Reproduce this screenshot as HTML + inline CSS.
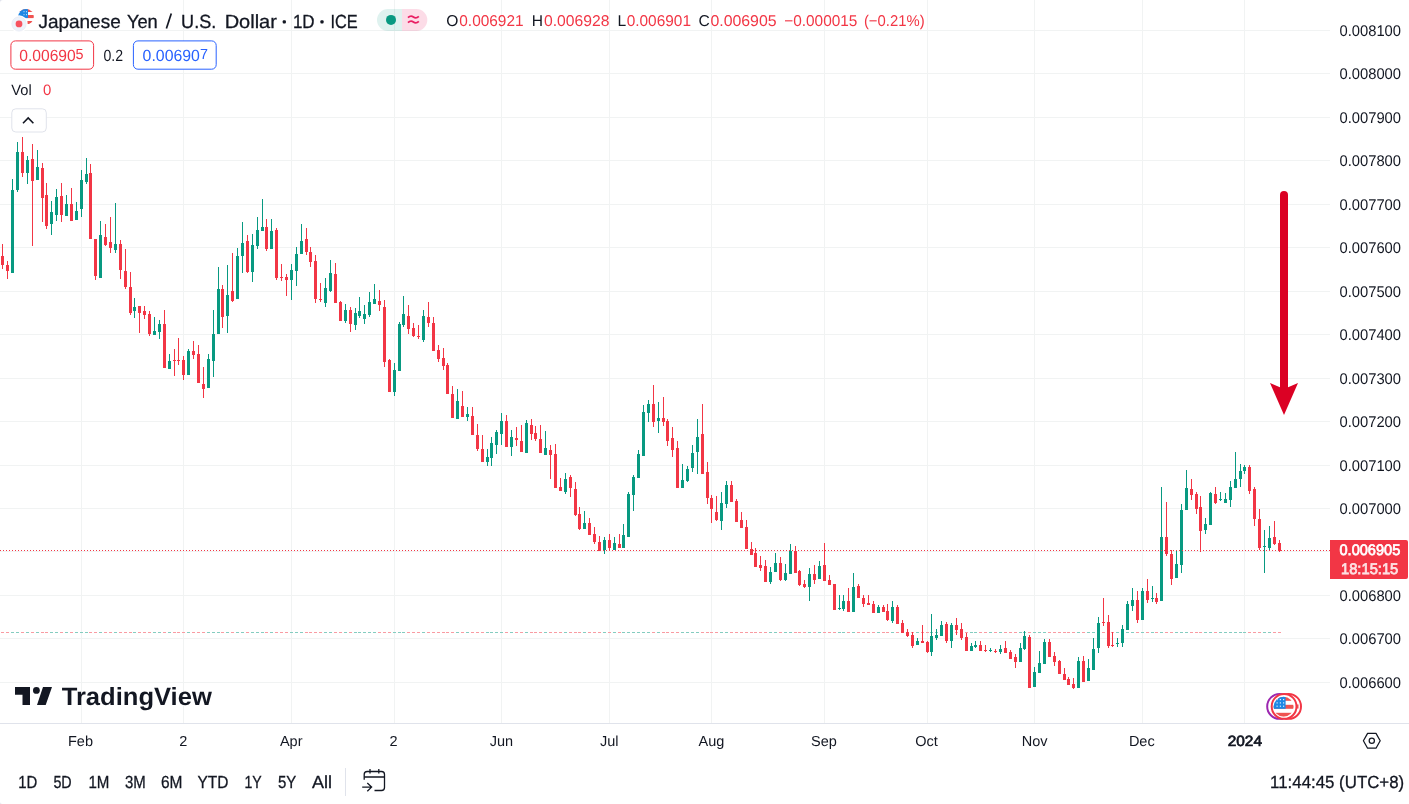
<!DOCTYPE html><html><head><meta charset="utf-8"><title>JPYUSD</title><style>
html,body{margin:0;padding:0;background:#fff;}body{width:1409px;height:804px;overflow:hidden;position:relative;font-family:"Liberation Sans",sans-serif;}
svg{position:absolute;left:0;top:0;display:block;will-change:transform;opacity:0.9999}text{font-family:"Liberation Sans",sans-serif;text-rendering:geometricPrecision;}
</style></head><body>
<svg width="1409" height="804" viewBox="0 0 1409 804">
<rect width="1409" height="804" fill="#fff"/>
<g shape-rendering="crispEdges" fill="#f1f3f3">
<rect x="0" y="30" width="1330" height="1"/>
<rect x="0" y="73" width="1330" height="1"/>
<rect x="0" y="117" width="1330" height="1"/>
<rect x="0" y="160" width="1330" height="1"/>
<rect x="0" y="204" width="1330" height="1"/>
<rect x="0" y="247" width="1330" height="1"/>
<rect x="0" y="291" width="1330" height="1"/>
<rect x="0" y="334" width="1330" height="1"/>
<rect x="0" y="378" width="1330" height="1"/>
<rect x="0" y="421" width="1330" height="1"/>
<rect x="0" y="465" width="1330" height="1"/>
<rect x="0" y="508" width="1330" height="1"/>
<rect x="0" y="551" width="1330" height="1"/>
<rect x="0" y="595" width="1330" height="1"/>
<rect x="0" y="638" width="1330" height="1"/>
<rect x="0" y="682" width="1330" height="1"/>
<rect x="81" y="0" width="1" height="723"/>
<rect x="183" y="0" width="1" height="723"/>
<rect x="291" y="0" width="1" height="723"/>
<rect x="394" y="0" width="1" height="723"/>
<rect x="501" y="0" width="1" height="723"/>
<rect x="609" y="0" width="1" height="723"/>
<rect x="711" y="0" width="1" height="723"/>
<rect x="824" y="0" width="1" height="723"/>
<rect x="927" y="0" width="1" height="723"/>
<rect x="1034" y="0" width="1" height="723"/>
<rect x="1142" y="0" width="1" height="723"/>
<rect x="1244" y="0" width="1" height="723"/>
</g>
<g shape-rendering="crispEdges">
<rect x="1" y="632" width="3" height="1" fill="#f99ba2"/>
<rect x="6" y="632" width="3" height="1" fill="#f99ba2"/>
<rect x="11" y="632" width="3" height="1" fill="#84ccc0"/>
<rect x="16" y="632" width="3" height="1" fill="#84ccc0"/>
<rect x="21" y="632" width="3" height="1" fill="#f99ba2"/>
<rect x="26" y="632" width="3" height="1" fill="#84ccc0"/>
<rect x="31" y="632" width="3" height="1" fill="#f99ba2"/>
<rect x="36" y="632" width="3" height="1" fill="#84ccc0"/>
<rect x="41" y="632" width="3" height="1" fill="#f99ba2"/>
<rect x="45" y="632" width="3" height="1" fill="#f99ba2"/>
<rect x="50" y="632" width="3" height="1" fill="#84ccc0"/>
<rect x="55" y="632" width="3" height="1" fill="#84ccc0"/>
<rect x="60" y="632" width="3" height="1" fill="#f99ba2"/>
<rect x="65" y="632" width="3" height="1" fill="#84ccc0"/>
<rect x="70" y="632" width="3" height="1" fill="#f99ba2"/>
<rect x="75" y="632" width="3" height="1" fill="#84ccc0"/>
<rect x="80" y="632" width="3" height="1" fill="#84ccc0"/>
<rect x="85" y="632" width="3" height="1" fill="#84ccc0"/>
<rect x="89" y="632" width="3" height="1" fill="#f99ba2"/>
<rect x="94" y="632" width="3" height="1" fill="#f99ba2"/>
<rect x="99" y="632" width="3" height="1" fill="#84ccc0"/>
<rect x="104" y="632" width="3" height="1" fill="#f99ba2"/>
<rect x="109" y="632" width="3" height="1" fill="#f99ba2"/>
<rect x="114" y="632" width="3" height="1" fill="#84ccc0"/>
<rect x="119" y="632" width="3" height="1" fill="#f99ba2"/>
<rect x="124" y="632" width="3" height="1" fill="#f99ba2"/>
<rect x="129" y="632" width="3" height="1" fill="#f99ba2"/>
<rect x="133" y="632" width="3" height="1" fill="#84ccc0"/>
<rect x="138" y="632" width="3" height="1" fill="#f99ba2"/>
<rect x="143" y="632" width="3" height="1" fill="#f99ba2"/>
<rect x="148" y="632" width="3" height="1" fill="#f99ba2"/>
<rect x="153" y="632" width="3" height="1" fill="#84ccc0"/>
<rect x="158" y="632" width="3" height="1" fill="#84ccc0"/>
<rect x="163" y="632" width="3" height="1" fill="#f99ba2"/>
<rect x="168" y="632" width="3" height="1" fill="#84ccc0"/>
<rect x="173" y="632" width="3" height="1" fill="#f99ba2"/>
<rect x="177" y="632" width="3" height="1" fill="#f99ba2"/>
<rect x="182" y="632" width="3" height="1" fill="#f99ba2"/>
<rect x="187" y="632" width="3" height="1" fill="#84ccc0"/>
<rect x="192" y="632" width="3" height="1" fill="#f99ba2"/>
<rect x="197" y="632" width="3" height="1" fill="#f99ba2"/>
<rect x="202" y="632" width="3" height="1" fill="#f99ba2"/>
<rect x="207" y="632" width="3" height="1" fill="#84ccc0"/>
<rect x="212" y="632" width="3" height="1" fill="#84ccc0"/>
<rect x="217" y="632" width="3" height="1" fill="#84ccc0"/>
<rect x="221" y="632" width="3" height="1" fill="#f99ba2"/>
<rect x="226" y="632" width="3" height="1" fill="#84ccc0"/>
<rect x="231" y="632" width="3" height="1" fill="#f99ba2"/>
<rect x="236" y="632" width="3" height="1" fill="#84ccc0"/>
<rect x="241" y="632" width="3" height="1" fill="#84ccc0"/>
<rect x="246" y="632" width="3" height="1" fill="#f99ba2"/>
<rect x="251" y="632" width="3" height="1" fill="#84ccc0"/>
<rect x="256" y="632" width="3" height="1" fill="#84ccc0"/>
<rect x="261" y="632" width="3" height="1" fill="#84ccc0"/>
<rect x="265" y="632" width="3" height="1" fill="#f99ba2"/>
<rect x="270" y="632" width="3" height="1" fill="#84ccc0"/>
<rect x="275" y="632" width="3" height="1" fill="#f99ba2"/>
<rect x="280" y="632" width="3" height="1" fill="#f99ba2"/>
<rect x="285" y="632" width="3" height="1" fill="#f99ba2"/>
<rect x="290" y="632" width="3" height="1" fill="#84ccc0"/>
<rect x="295" y="632" width="3" height="1" fill="#84ccc0"/>
<rect x="300" y="632" width="3" height="1" fill="#84ccc0"/>
<rect x="305" y="632" width="3" height="1" fill="#f99ba2"/>
<rect x="309" y="632" width="3" height="1" fill="#f99ba2"/>
<rect x="314" y="632" width="3" height="1" fill="#f99ba2"/>
<rect x="319" y="632" width="3" height="1" fill="#f99ba2"/>
<rect x="324" y="632" width="3" height="1" fill="#84ccc0"/>
<rect x="329" y="632" width="3" height="1" fill="#84ccc0"/>
<rect x="334" y="632" width="3" height="1" fill="#f99ba2"/>
<rect x="339" y="632" width="3" height="1" fill="#f99ba2"/>
<rect x="344" y="632" width="3" height="1" fill="#84ccc0"/>
<rect x="349" y="632" width="3" height="1" fill="#f99ba2"/>
<rect x="354" y="632" width="3" height="1" fill="#84ccc0"/>
<rect x="358" y="632" width="3" height="1" fill="#84ccc0"/>
<rect x="363" y="632" width="3" height="1" fill="#84ccc0"/>
<rect x="368" y="632" width="3" height="1" fill="#84ccc0"/>
<rect x="373" y="632" width="3" height="1" fill="#84ccc0"/>
<rect x="378" y="632" width="3" height="1" fill="#f99ba2"/>
<rect x="383" y="632" width="3" height="1" fill="#f99ba2"/>
<rect x="388" y="632" width="3" height="1" fill="#f99ba2"/>
<rect x="393" y="632" width="3" height="1" fill="#84ccc0"/>
<rect x="398" y="632" width="3" height="1" fill="#84ccc0"/>
<rect x="402" y="632" width="3" height="1" fill="#84ccc0"/>
<rect x="407" y="632" width="3" height="1" fill="#f99ba2"/>
<rect x="412" y="632" width="3" height="1" fill="#f99ba2"/>
<rect x="417" y="632" width="3" height="1" fill="#f99ba2"/>
<rect x="422" y="632" width="3" height="1" fill="#84ccc0"/>
<rect x="427" y="632" width="3" height="1" fill="#f99ba2"/>
<rect x="432" y="632" width="3" height="1" fill="#f99ba2"/>
<rect x="437" y="632" width="3" height="1" fill="#f99ba2"/>
<rect x="442" y="632" width="3" height="1" fill="#f99ba2"/>
<rect x="446" y="632" width="3" height="1" fill="#f99ba2"/>
<rect x="451" y="632" width="3" height="1" fill="#f99ba2"/>
<rect x="456" y="632" width="3" height="1" fill="#84ccc0"/>
<rect x="461" y="632" width="3" height="1" fill="#f99ba2"/>
<rect x="466" y="632" width="3" height="1" fill="#84ccc0"/>
<rect x="471" y="632" width="3" height="1" fill="#f99ba2"/>
<rect x="476" y="632" width="3" height="1" fill="#f99ba2"/>
<rect x="481" y="632" width="3" height="1" fill="#f99ba2"/>
<rect x="486" y="632" width="3" height="1" fill="#84ccc0"/>
<rect x="490" y="632" width="3" height="1" fill="#84ccc0"/>
<rect x="495" y="632" width="3" height="1" fill="#84ccc0"/>
<rect x="500" y="632" width="3" height="1" fill="#84ccc0"/>
<rect x="505" y="632" width="3" height="1" fill="#f99ba2"/>
<rect x="510" y="632" width="3" height="1" fill="#84ccc0"/>
<rect x="515" y="632" width="3" height="1" fill="#f99ba2"/>
<rect x="520" y="632" width="3" height="1" fill="#f99ba2"/>
<rect x="525" y="632" width="3" height="1" fill="#84ccc0"/>
<rect x="530" y="632" width="3" height="1" fill="#f99ba2"/>
<rect x="534" y="632" width="3" height="1" fill="#f99ba2"/>
<rect x="539" y="632" width="3" height="1" fill="#f99ba2"/>
<rect x="544" y="632" width="3" height="1" fill="#84ccc0"/>
<rect x="549" y="632" width="3" height="1" fill="#f99ba2"/>
<rect x="554" y="632" width="3" height="1" fill="#f99ba2"/>
<rect x="559" y="632" width="3" height="1" fill="#f99ba2"/>
<rect x="564" y="632" width="3" height="1" fill="#84ccc0"/>
<rect x="569" y="632" width="3" height="1" fill="#f99ba2"/>
<rect x="574" y="632" width="3" height="1" fill="#f99ba2"/>
<rect x="578" y="632" width="3" height="1" fill="#f99ba2"/>
<rect x="583" y="632" width="3" height="1" fill="#84ccc0"/>
<rect x="588" y="632" width="3" height="1" fill="#f99ba2"/>
<rect x="593" y="632" width="3" height="1" fill="#f99ba2"/>
<rect x="598" y="632" width="3" height="1" fill="#f99ba2"/>
<rect x="603" y="632" width="3" height="1" fill="#84ccc0"/>
<rect x="608" y="632" width="3" height="1" fill="#f99ba2"/>
<rect x="613" y="632" width="3" height="1" fill="#84ccc0"/>
<rect x="618" y="632" width="3" height="1" fill="#f99ba2"/>
<rect x="622" y="632" width="3" height="1" fill="#84ccc0"/>
<rect x="627" y="632" width="3" height="1" fill="#84ccc0"/>
<rect x="632" y="632" width="3" height="1" fill="#84ccc0"/>
<rect x="637" y="632" width="3" height="1" fill="#84ccc0"/>
<rect x="642" y="632" width="3" height="1" fill="#84ccc0"/>
<rect x="647" y="632" width="3" height="1" fill="#84ccc0"/>
<rect x="652" y="632" width="3" height="1" fill="#f99ba2"/>
<rect x="657" y="632" width="3" height="1" fill="#84ccc0"/>
<rect x="662" y="632" width="3" height="1" fill="#f99ba2"/>
<rect x="666" y="632" width="3" height="1" fill="#f99ba2"/>
<rect x="671" y="632" width="3" height="1" fill="#f99ba2"/>
<rect x="676" y="632" width="3" height="1" fill="#f99ba2"/>
<rect x="681" y="632" width="3" height="1" fill="#84ccc0"/>
<rect x="686" y="632" width="3" height="1" fill="#84ccc0"/>
<rect x="691" y="632" width="3" height="1" fill="#84ccc0"/>
<rect x="696" y="632" width="3" height="1" fill="#84ccc0"/>
<rect x="701" y="632" width="3" height="1" fill="#f99ba2"/>
<rect x="706" y="632" width="3" height="1" fill="#f99ba2"/>
<rect x="710" y="632" width="3" height="1" fill="#f99ba2"/>
<rect x="715" y="632" width="3" height="1" fill="#f99ba2"/>
<rect x="720" y="632" width="3" height="1" fill="#84ccc0"/>
<rect x="725" y="632" width="3" height="1" fill="#84ccc0"/>
<rect x="730" y="632" width="3" height="1" fill="#f99ba2"/>
<rect x="735" y="632" width="3" height="1" fill="#f99ba2"/>
<rect x="740" y="632" width="3" height="1" fill="#f99ba2"/>
<rect x="745" y="632" width="3" height="1" fill="#f99ba2"/>
<rect x="750" y="632" width="3" height="1" fill="#f99ba2"/>
<rect x="754" y="632" width="3" height="1" fill="#f99ba2"/>
<rect x="759" y="632" width="3" height="1" fill="#f99ba2"/>
<rect x="764" y="632" width="3" height="1" fill="#f99ba2"/>
<rect x="769" y="632" width="3" height="1" fill="#84ccc0"/>
<rect x="774" y="632" width="3" height="1" fill="#84ccc0"/>
<rect x="779" y="632" width="3" height="1" fill="#f99ba2"/>
<rect x="784" y="632" width="3" height="1" fill="#84ccc0"/>
<rect x="789" y="632" width="3" height="1" fill="#84ccc0"/>
<rect x="794" y="632" width="3" height="1" fill="#f99ba2"/>
<rect x="798" y="632" width="3" height="1" fill="#f99ba2"/>
<rect x="803" y="632" width="3" height="1" fill="#f99ba2"/>
<rect x="808" y="632" width="3" height="1" fill="#84ccc0"/>
<rect x="813" y="632" width="3" height="1" fill="#f99ba2"/>
<rect x="818" y="632" width="3" height="1" fill="#84ccc0"/>
<rect x="823" y="632" width="3" height="1" fill="#f99ba2"/>
<rect x="828" y="632" width="3" height="1" fill="#f99ba2"/>
<rect x="833" y="632" width="3" height="1" fill="#f99ba2"/>
<rect x="838" y="632" width="3" height="1" fill="#84ccc0"/>
<rect x="842" y="632" width="3" height="1" fill="#84ccc0"/>
<rect x="847" y="632" width="3" height="1" fill="#f99ba2"/>
<rect x="852" y="632" width="3" height="1" fill="#84ccc0"/>
<rect x="857" y="632" width="3" height="1" fill="#f99ba2"/>
<rect x="862" y="632" width="3" height="1" fill="#f99ba2"/>
<rect x="867" y="632" width="3" height="1" fill="#f99ba2"/>
<rect x="872" y="632" width="3" height="1" fill="#f99ba2"/>
<rect x="877" y="632" width="3" height="1" fill="#84ccc0"/>
<rect x="882" y="632" width="3" height="1" fill="#f99ba2"/>
<rect x="886" y="632" width="3" height="1" fill="#f99ba2"/>
<rect x="891" y="632" width="3" height="1" fill="#84ccc0"/>
<rect x="896" y="632" width="3" height="1" fill="#f99ba2"/>
<rect x="901" y="632" width="3" height="1" fill="#f99ba2"/>
<rect x="906" y="632" width="3" height="1" fill="#f99ba2"/>
<rect x="911" y="632" width="3" height="1" fill="#f99ba2"/>
<rect x="916" y="632" width="3" height="1" fill="#84ccc0"/>
<rect x="921" y="632" width="3" height="1" fill="#f99ba2"/>
<rect x="926" y="632" width="3" height="1" fill="#f99ba2"/>
<rect x="930" y="632" width="3" height="1" fill="#84ccc0"/>
<rect x="935" y="632" width="3" height="1" fill="#84ccc0"/>
<rect x="940" y="632" width="3" height="1" fill="#84ccc0"/>
<rect x="945" y="632" width="3" height="1" fill="#f99ba2"/>
<rect x="950" y="632" width="3" height="1" fill="#84ccc0"/>
<rect x="955" y="632" width="3" height="1" fill="#f99ba2"/>
<rect x="960" y="632" width="3" height="1" fill="#f99ba2"/>
<rect x="965" y="632" width="3" height="1" fill="#f99ba2"/>
<rect x="970" y="632" width="3" height="1" fill="#84ccc0"/>
<rect x="974" y="632" width="3" height="1" fill="#84ccc0"/>
<rect x="979" y="632" width="3" height="1" fill="#f99ba2"/>
<rect x="984" y="632" width="3" height="1" fill="#f99ba2"/>
<rect x="989" y="632" width="3" height="1" fill="#84ccc0"/>
<rect x="994" y="632" width="3" height="1" fill="#f99ba2"/>
<rect x="999" y="632" width="3" height="1" fill="#84ccc0"/>
<rect x="1004" y="632" width="3" height="1" fill="#f99ba2"/>
<rect x="1009" y="632" width="3" height="1" fill="#f99ba2"/>
<rect x="1014" y="632" width="3" height="1" fill="#f99ba2"/>
<rect x="1019" y="632" width="3" height="1" fill="#84ccc0"/>
<rect x="1023" y="632" width="3" height="1" fill="#84ccc0"/>
<rect x="1028" y="632" width="3" height="1" fill="#f99ba2"/>
<rect x="1033" y="632" width="3" height="1" fill="#84ccc0"/>
<rect x="1038" y="632" width="3" height="1" fill="#84ccc0"/>
<rect x="1043" y="632" width="3" height="1" fill="#84ccc0"/>
<rect x="1048" y="632" width="3" height="1" fill="#f99ba2"/>
<rect x="1053" y="632" width="3" height="1" fill="#f99ba2"/>
<rect x="1058" y="632" width="3" height="1" fill="#f99ba2"/>
<rect x="1063" y="632" width="3" height="1" fill="#f99ba2"/>
<rect x="1067" y="632" width="3" height="1" fill="#f99ba2"/>
<rect x="1072" y="632" width="3" height="1" fill="#f99ba2"/>
<rect x="1077" y="632" width="3" height="1" fill="#84ccc0"/>
<rect x="1082" y="632" width="3" height="1" fill="#f99ba2"/>
<rect x="1087" y="632" width="3" height="1" fill="#84ccc0"/>
<rect x="1092" y="632" width="3" height="1" fill="#84ccc0"/>
<rect x="1097" y="632" width="3" height="1" fill="#84ccc0"/>
<rect x="1102" y="632" width="3" height="1" fill="#f99ba2"/>
<rect x="1107" y="632" width="3" height="1" fill="#f99ba2"/>
<rect x="1111" y="632" width="3" height="1" fill="#f99ba2"/>
<rect x="1116" y="632" width="3" height="1" fill="#84ccc0"/>
<rect x="1121" y="632" width="3" height="1" fill="#84ccc0"/>
<rect x="1126" y="632" width="3" height="1" fill="#84ccc0"/>
<rect x="1131" y="632" width="3" height="1" fill="#84ccc0"/>
<rect x="1136" y="632" width="3" height="1" fill="#f99ba2"/>
<rect x="1141" y="632" width="3" height="1" fill="#84ccc0"/>
<rect x="1146" y="632" width="3" height="1" fill="#f99ba2"/>
<rect x="1151" y="632" width="3" height="1" fill="#84ccc0"/>
<rect x="1155" y="632" width="3" height="1" fill="#f99ba2"/>
<rect x="1160" y="632" width="3" height="1" fill="#84ccc0"/>
<rect x="1165" y="632" width="3" height="1" fill="#f99ba2"/>
<rect x="1170" y="632" width="3" height="1" fill="#f99ba2"/>
<rect x="1175" y="632" width="3" height="1" fill="#84ccc0"/>
<rect x="1180" y="632" width="3" height="1" fill="#84ccc0"/>
<rect x="1185" y="632" width="3" height="1" fill="#84ccc0"/>
<rect x="1190" y="632" width="3" height="1" fill="#f99ba2"/>
<rect x="1195" y="632" width="3" height="1" fill="#f99ba2"/>
<rect x="1199" y="632" width="3" height="1" fill="#f99ba2"/>
<rect x="1204" y="632" width="3" height="1" fill="#84ccc0"/>
<rect x="1209" y="632" width="3" height="1" fill="#84ccc0"/>
<rect x="1214" y="632" width="3" height="1" fill="#f99ba2"/>
<rect x="1219" y="632" width="3" height="1" fill="#84ccc0"/>
<rect x="1224" y="632" width="3" height="1" fill="#84ccc0"/>
<rect x="1229" y="632" width="3" height="1" fill="#84ccc0"/>
<rect x="1234" y="632" width="3" height="1" fill="#84ccc0"/>
<rect x="1239" y="632" width="3" height="1" fill="#84ccc0"/>
<rect x="1243" y="632" width="3" height="1" fill="#84ccc0"/>
<rect x="1248" y="632" width="3" height="1" fill="#f99ba2"/>
<rect x="1253" y="632" width="3" height="1" fill="#f99ba2"/>
<rect x="1258" y="632" width="3" height="1" fill="#f99ba2"/>
<rect x="1263" y="632" width="3" height="1" fill="#84ccc0"/>
<rect x="1268" y="632" width="3" height="1" fill="#84ccc0"/>
<rect x="1273" y="632" width="3" height="1" fill="#f99ba2"/>
<rect x="1278" y="632" width="3" height="1" fill="#f99ba2"/>
</g>
<g shape-rendering="crispEdges">
<rect x="2" y="244" width="1" height="25" fill="#f23645"/>
<rect x="1" y="256" width="3" height="9" fill="#f23645"/>
<rect x="7" y="261" width="1" height="18" fill="#f23645"/>
<rect x="6" y="265" width="3" height="6" fill="#f23645"/>
<rect x="12" y="179" width="1" height="94" fill="#089981"/>
<rect x="11" y="190" width="3" height="83" fill="#089981"/>
<rect x="17" y="142" width="1" height="50" fill="#089981"/>
<rect x="16" y="152" width="3" height="38" fill="#089981"/>
<rect x="22" y="137" width="1" height="40" fill="#f23645"/>
<rect x="21" y="152" width="3" height="21" fill="#f23645"/>
<rect x="27" y="156" width="1" height="28" fill="#089981"/>
<rect x="26" y="160" width="3" height="13" fill="#089981"/>
<rect x="32" y="144" width="1" height="102" fill="#f23645"/>
<rect x="31" y="159" width="3" height="22" fill="#f23645"/>
<rect x="37" y="150" width="1" height="30" fill="#089981"/>
<rect x="36" y="167" width="3" height="13" fill="#089981"/>
<rect x="42" y="163" width="1" height="59" fill="#f23645"/>
<rect x="41" y="168" width="3" height="30" fill="#f23645"/>
<rect x="46" y="183" width="1" height="46" fill="#f23645"/>
<rect x="45" y="195" width="3" height="31" fill="#f23645"/>
<rect x="51" y="201" width="1" height="34" fill="#089981"/>
<rect x="50" y="212" width="3" height="12" fill="#089981"/>
<rect x="56" y="189" width="1" height="32" fill="#089981"/>
<rect x="55" y="197" width="3" height="18" fill="#089981"/>
<rect x="61" y="183" width="1" height="39" fill="#f23645"/>
<rect x="60" y="196" width="3" height="19" fill="#f23645"/>
<rect x="66" y="195" width="1" height="21" fill="#089981"/>
<rect x="65" y="204" width="3" height="12" fill="#089981"/>
<rect x="71" y="188" width="1" height="33" fill="#f23645"/>
<rect x="70" y="204" width="3" height="17" fill="#f23645"/>
<rect x="76" y="202" width="1" height="18" fill="#089981"/>
<rect x="75" y="211" width="3" height="9" fill="#089981"/>
<rect x="81" y="170" width="1" height="47" fill="#089981"/>
<rect x="80" y="180" width="3" height="29" fill="#089981"/>
<rect x="86" y="158" width="1" height="26" fill="#089981"/>
<rect x="85" y="174" width="3" height="8" fill="#089981"/>
<rect x="90" y="164" width="1" height="75" fill="#f23645"/>
<rect x="89" y="173" width="3" height="66" fill="#f23645"/>
<rect x="95" y="239" width="1" height="41" fill="#f23645"/>
<rect x="94" y="239" width="3" height="37" fill="#f23645"/>
<rect x="100" y="221" width="1" height="57" fill="#089981"/>
<rect x="99" y="235" width="3" height="43" fill="#089981"/>
<rect x="105" y="224" width="1" height="22" fill="#f23645"/>
<rect x="104" y="237" width="3" height="8" fill="#f23645"/>
<rect x="110" y="217" width="1" height="36" fill="#f23645"/>
<rect x="109" y="242" width="3" height="6" fill="#f23645"/>
<rect x="115" y="203" width="1" height="50" fill="#089981"/>
<rect x="114" y="244" width="3" height="6" fill="#089981"/>
<rect x="120" y="240" width="1" height="39" fill="#f23645"/>
<rect x="119" y="244" width="3" height="26" fill="#f23645"/>
<rect x="125" y="249" width="1" height="40" fill="#f23645"/>
<rect x="124" y="271" width="3" height="16" fill="#f23645"/>
<rect x="130" y="272" width="1" height="43" fill="#f23645"/>
<rect x="129" y="287" width="3" height="26" fill="#f23645"/>
<rect x="134" y="298" width="1" height="20" fill="#089981"/>
<rect x="133" y="307" width="3" height="4" fill="#089981"/>
<rect x="139" y="306" width="1" height="27" fill="#f23645"/>
<rect x="138" y="306" width="3" height="7" fill="#f23645"/>
<rect x="144" y="306" width="1" height="13" fill="#f23645"/>
<rect x="143" y="311" width="3" height="4" fill="#f23645"/>
<rect x="149" y="311" width="1" height="25" fill="#f23645"/>
<rect x="148" y="314" width="3" height="20" fill="#f23645"/>
<rect x="154" y="317" width="1" height="18" fill="#089981"/>
<rect x="153" y="331" width="3" height="4" fill="#089981"/>
<rect x="159" y="320" width="1" height="19" fill="#089981"/>
<rect x="158" y="324" width="3" height="8" fill="#089981"/>
<rect x="164" y="310" width="1" height="58" fill="#f23645"/>
<rect x="163" y="324" width="3" height="44" fill="#f23645"/>
<rect x="169" y="354" width="1" height="15" fill="#089981"/>
<rect x="168" y="361" width="3" height="8" fill="#089981"/>
<rect x="174" y="349" width="1" height="27" fill="#f23645"/>
<rect x="173" y="360" width="3" height="1" fill="#f23645"/>
<rect x="178" y="338" width="1" height="27" fill="#f23645"/>
<rect x="177" y="360" width="3" height="1" fill="#f23645"/>
<rect x="183" y="356" width="1" height="24" fill="#f23645"/>
<rect x="182" y="360" width="3" height="15" fill="#f23645"/>
<rect x="188" y="349" width="1" height="26" fill="#089981"/>
<rect x="187" y="351" width="3" height="24" fill="#089981"/>
<rect x="193" y="341" width="1" height="18" fill="#f23645"/>
<rect x="192" y="351" width="3" height="4" fill="#f23645"/>
<rect x="198" y="345" width="1" height="38" fill="#f23645"/>
<rect x="197" y="354" width="3" height="29" fill="#f23645"/>
<rect x="203" y="367" width="1" height="31" fill="#f23645"/>
<rect x="202" y="384" width="3" height="5" fill="#f23645"/>
<rect x="208" y="354" width="1" height="34" fill="#089981"/>
<rect x="207" y="359" width="3" height="29" fill="#089981"/>
<rect x="213" y="310" width="1" height="67" fill="#089981"/>
<rect x="212" y="334" width="3" height="27" fill="#089981"/>
<rect x="218" y="267" width="1" height="67" fill="#089981"/>
<rect x="217" y="289" width="3" height="45" fill="#089981"/>
<rect x="222" y="285" width="1" height="43" fill="#f23645"/>
<rect x="221" y="289" width="3" height="28" fill="#f23645"/>
<rect x="227" y="265" width="1" height="68" fill="#089981"/>
<rect x="226" y="295" width="3" height="21" fill="#089981"/>
<rect x="232" y="253" width="1" height="49" fill="#f23645"/>
<rect x="231" y="291" width="3" height="10" fill="#f23645"/>
<rect x="237" y="248" width="1" height="51" fill="#089981"/>
<rect x="236" y="256" width="3" height="43" fill="#089981"/>
<rect x="242" y="222" width="1" height="51" fill="#089981"/>
<rect x="241" y="243" width="3" height="13" fill="#089981"/>
<rect x="247" y="235" width="1" height="38" fill="#f23645"/>
<rect x="246" y="241" width="3" height="31" fill="#f23645"/>
<rect x="252" y="234" width="1" height="48" fill="#089981"/>
<rect x="251" y="245" width="3" height="27" fill="#089981"/>
<rect x="257" y="217" width="1" height="32" fill="#089981"/>
<rect x="256" y="230" width="3" height="16" fill="#089981"/>
<rect x="262" y="199" width="1" height="32" fill="#089981"/>
<rect x="261" y="227" width="3" height="4" fill="#089981"/>
<rect x="266" y="219" width="1" height="32" fill="#f23645"/>
<rect x="265" y="227" width="3" height="22" fill="#f23645"/>
<rect x="271" y="219" width="1" height="30" fill="#089981"/>
<rect x="270" y="231" width="3" height="18" fill="#089981"/>
<rect x="276" y="228" width="1" height="52" fill="#f23645"/>
<rect x="275" y="230" width="3" height="48" fill="#f23645"/>
<rect x="281" y="264" width="1" height="17" fill="#f23645"/>
<rect x="280" y="277" width="3" height="1" fill="#f23645"/>
<rect x="286" y="274" width="1" height="22" fill="#f23645"/>
<rect x="285" y="277" width="3" height="3" fill="#f23645"/>
<rect x="291" y="264" width="1" height="36" fill="#089981"/>
<rect x="290" y="270" width="3" height="10" fill="#089981"/>
<rect x="296" y="247" width="1" height="39" fill="#089981"/>
<rect x="295" y="254" width="3" height="17" fill="#089981"/>
<rect x="301" y="224" width="1" height="30" fill="#089981"/>
<rect x="300" y="241" width="3" height="13" fill="#089981"/>
<rect x="306" y="228" width="1" height="27" fill="#f23645"/>
<rect x="305" y="239" width="3" height="13" fill="#f23645"/>
<rect x="310" y="247" width="1" height="20" fill="#f23645"/>
<rect x="309" y="252" width="3" height="10" fill="#f23645"/>
<rect x="315" y="255" width="1" height="48" fill="#f23645"/>
<rect x="314" y="261" width="3" height="38" fill="#f23645"/>
<rect x="320" y="283" width="1" height="19" fill="#f23645"/>
<rect x="319" y="299" width="3" height="1" fill="#f23645"/>
<rect x="325" y="278" width="1" height="29" fill="#089981"/>
<rect x="324" y="288" width="3" height="15" fill="#089981"/>
<rect x="330" y="260" width="1" height="32" fill="#089981"/>
<rect x="329" y="273" width="3" height="18" fill="#089981"/>
<rect x="335" y="263" width="1" height="40" fill="#f23645"/>
<rect x="334" y="274" width="3" height="29" fill="#f23645"/>
<rect x="340" y="301" width="1" height="20" fill="#f23645"/>
<rect x="339" y="302" width="3" height="19" fill="#f23645"/>
<rect x="345" y="304" width="1" height="19" fill="#089981"/>
<rect x="344" y="310" width="3" height="11" fill="#089981"/>
<rect x="350" y="307" width="1" height="25" fill="#f23645"/>
<rect x="349" y="310" width="3" height="14" fill="#f23645"/>
<rect x="355" y="308" width="1" height="22" fill="#089981"/>
<rect x="354" y="313" width="3" height="12" fill="#089981"/>
<rect x="359" y="297" width="1" height="21" fill="#089981"/>
<rect x="358" y="311" width="3" height="5" fill="#089981"/>
<rect x="364" y="305" width="1" height="19" fill="#089981"/>
<rect x="363" y="314" width="3" height="5" fill="#089981"/>
<rect x="369" y="292" width="1" height="25" fill="#089981"/>
<rect x="368" y="302" width="3" height="13" fill="#089981"/>
<rect x="374" y="284" width="1" height="20" fill="#089981"/>
<rect x="373" y="299" width="3" height="5" fill="#089981"/>
<rect x="379" y="290" width="1" height="21" fill="#f23645"/>
<rect x="378" y="301" width="3" height="4" fill="#f23645"/>
<rect x="384" y="300" width="1" height="67" fill="#f23645"/>
<rect x="383" y="307" width="3" height="55" fill="#f23645"/>
<rect x="389" y="359" width="1" height="33" fill="#f23645"/>
<rect x="388" y="360" width="3" height="32" fill="#f23645"/>
<rect x="394" y="363" width="1" height="33" fill="#089981"/>
<rect x="393" y="370" width="3" height="22" fill="#089981"/>
<rect x="399" y="322" width="1" height="49" fill="#089981"/>
<rect x="398" y="324" width="3" height="47" fill="#089981"/>
<rect x="403" y="296" width="1" height="31" fill="#089981"/>
<rect x="402" y="314" width="3" height="11" fill="#089981"/>
<rect x="408" y="305" width="1" height="29" fill="#f23645"/>
<rect x="407" y="316" width="3" height="13" fill="#f23645"/>
<rect x="413" y="323" width="1" height="14" fill="#f23645"/>
<rect x="412" y="328" width="3" height="8" fill="#f23645"/>
<rect x="418" y="325" width="1" height="14" fill="#f23645"/>
<rect x="417" y="336" width="3" height="1" fill="#f23645"/>
<rect x="423" y="310" width="1" height="32" fill="#089981"/>
<rect x="422" y="316" width="3" height="24" fill="#089981"/>
<rect x="428" y="302" width="1" height="25" fill="#f23645"/>
<rect x="427" y="317" width="3" height="6" fill="#f23645"/>
<rect x="433" y="317" width="1" height="34" fill="#f23645"/>
<rect x="432" y="323" width="3" height="28" fill="#f23645"/>
<rect x="438" y="345" width="1" height="17" fill="#f23645"/>
<rect x="437" y="350" width="3" height="9" fill="#f23645"/>
<rect x="443" y="348" width="1" height="22" fill="#f23645"/>
<rect x="442" y="358" width="3" height="8" fill="#f23645"/>
<rect x="447" y="363" width="1" height="31" fill="#f23645"/>
<rect x="446" y="365" width="3" height="29" fill="#f23645"/>
<rect x="452" y="386" width="1" height="32" fill="#f23645"/>
<rect x="451" y="394" width="3" height="24" fill="#f23645"/>
<rect x="457" y="389" width="1" height="30" fill="#089981"/>
<rect x="456" y="401" width="3" height="18" fill="#089981"/>
<rect x="462" y="391" width="1" height="26" fill="#f23645"/>
<rect x="461" y="406" width="3" height="11" fill="#f23645"/>
<rect x="467" y="407" width="1" height="14" fill="#089981"/>
<rect x="466" y="414" width="3" height="3" fill="#089981"/>
<rect x="472" y="407" width="1" height="28" fill="#f23645"/>
<rect x="471" y="416" width="3" height="19" fill="#f23645"/>
<rect x="477" y="424" width="1" height="27" fill="#f23645"/>
<rect x="476" y="435" width="3" height="14" fill="#f23645"/>
<rect x="482" y="435" width="1" height="27" fill="#f23645"/>
<rect x="481" y="449" width="3" height="13" fill="#f23645"/>
<rect x="487" y="449" width="1" height="17" fill="#089981"/>
<rect x="486" y="457" width="3" height="5" fill="#089981"/>
<rect x="491" y="437" width="1" height="29" fill="#089981"/>
<rect x="490" y="443" width="3" height="15" fill="#089981"/>
<rect x="496" y="430" width="1" height="24" fill="#089981"/>
<rect x="495" y="432" width="3" height="13" fill="#089981"/>
<rect x="501" y="413" width="1" height="32" fill="#089981"/>
<rect x="500" y="421" width="3" height="13" fill="#089981"/>
<rect x="506" y="415" width="1" height="32" fill="#f23645"/>
<rect x="505" y="421" width="3" height="26" fill="#f23645"/>
<rect x="511" y="430" width="1" height="26" fill="#089981"/>
<rect x="510" y="437" width="3" height="10" fill="#089981"/>
<rect x="516" y="427" width="1" height="19" fill="#f23645"/>
<rect x="515" y="438" width="3" height="2" fill="#f23645"/>
<rect x="521" y="425" width="1" height="27" fill="#f23645"/>
<rect x="520" y="441" width="3" height="11" fill="#f23645"/>
<rect x="526" y="420" width="1" height="33" fill="#089981"/>
<rect x="525" y="423" width="3" height="30" fill="#089981"/>
<rect x="531" y="419" width="1" height="21" fill="#f23645"/>
<rect x="530" y="425" width="3" height="9" fill="#f23645"/>
<rect x="535" y="426" width="1" height="15" fill="#f23645"/>
<rect x="534" y="433" width="3" height="6" fill="#f23645"/>
<rect x="540" y="425" width="1" height="28" fill="#f23645"/>
<rect x="539" y="439" width="3" height="14" fill="#f23645"/>
<rect x="545" y="431" width="1" height="24" fill="#089981"/>
<rect x="544" y="448" width="3" height="7" fill="#089981"/>
<rect x="550" y="445" width="1" height="34" fill="#f23645"/>
<rect x="549" y="450" width="3" height="5" fill="#f23645"/>
<rect x="555" y="444" width="1" height="44" fill="#f23645"/>
<rect x="554" y="454" width="3" height="34" fill="#f23645"/>
<rect x="560" y="478" width="1" height="13" fill="#f23645"/>
<rect x="559" y="487" width="3" height="4" fill="#f23645"/>
<rect x="565" y="473" width="1" height="21" fill="#089981"/>
<rect x="564" y="479" width="3" height="13" fill="#089981"/>
<rect x="570" y="475" width="1" height="22" fill="#f23645"/>
<rect x="569" y="477" width="3" height="11" fill="#f23645"/>
<rect x="575" y="482" width="1" height="34" fill="#f23645"/>
<rect x="574" y="489" width="3" height="26" fill="#f23645"/>
<rect x="579" y="507" width="1" height="23" fill="#f23645"/>
<rect x="578" y="514" width="3" height="15" fill="#f23645"/>
<rect x="584" y="511" width="1" height="18" fill="#089981"/>
<rect x="583" y="523" width="3" height="6" fill="#089981"/>
<rect x="589" y="518" width="1" height="17" fill="#f23645"/>
<rect x="588" y="523" width="3" height="12" fill="#f23645"/>
<rect x="594" y="527" width="1" height="17" fill="#f23645"/>
<rect x="593" y="534" width="3" height="8" fill="#f23645"/>
<rect x="599" y="536" width="1" height="15" fill="#f23645"/>
<rect x="598" y="542" width="3" height="9" fill="#f23645"/>
<rect x="604" y="537" width="1" height="17" fill="#089981"/>
<rect x="603" y="540" width="3" height="10" fill="#089981"/>
<rect x="609" y="534" width="1" height="17" fill="#f23645"/>
<rect x="608" y="540" width="3" height="8" fill="#f23645"/>
<rect x="614" y="537" width="1" height="13" fill="#089981"/>
<rect x="613" y="543" width="3" height="7" fill="#089981"/>
<rect x="619" y="534" width="1" height="14" fill="#f23645"/>
<rect x="618" y="544" width="3" height="4" fill="#f23645"/>
<rect x="623" y="524" width="1" height="24" fill="#089981"/>
<rect x="622" y="535" width="3" height="13" fill="#089981"/>
<rect x="628" y="492" width="1" height="45" fill="#089981"/>
<rect x="627" y="494" width="3" height="43" fill="#089981"/>
<rect x="633" y="475" width="1" height="36" fill="#089981"/>
<rect x="632" y="477" width="3" height="18" fill="#089981"/>
<rect x="638" y="450" width="1" height="28" fill="#089981"/>
<rect x="637" y="454" width="3" height="24" fill="#089981"/>
<rect x="643" y="405" width="1" height="51" fill="#089981"/>
<rect x="642" y="412" width="3" height="44" fill="#089981"/>
<rect x="648" y="400" width="1" height="22" fill="#089981"/>
<rect x="647" y="404" width="3" height="9" fill="#089981"/>
<rect x="653" y="385" width="1" height="42" fill="#f23645"/>
<rect x="652" y="404" width="3" height="18" fill="#f23645"/>
<rect x="658" y="402" width="1" height="31" fill="#089981"/>
<rect x="657" y="418" width="3" height="3" fill="#089981"/>
<rect x="663" y="397" width="1" height="29" fill="#f23645"/>
<rect x="662" y="418" width="3" height="4" fill="#f23645"/>
<rect x="667" y="419" width="1" height="27" fill="#f23645"/>
<rect x="666" y="421" width="3" height="20" fill="#f23645"/>
<rect x="672" y="427" width="1" height="30" fill="#f23645"/>
<rect x="671" y="438" width="3" height="12" fill="#f23645"/>
<rect x="677" y="441" width="1" height="47" fill="#f23645"/>
<rect x="676" y="448" width="3" height="40" fill="#f23645"/>
<rect x="682" y="464" width="1" height="24" fill="#089981"/>
<rect x="681" y="480" width="3" height="8" fill="#089981"/>
<rect x="687" y="466" width="1" height="16" fill="#089981"/>
<rect x="686" y="469" width="3" height="12" fill="#089981"/>
<rect x="692" y="445" width="1" height="27" fill="#089981"/>
<rect x="691" y="453" width="3" height="15" fill="#089981"/>
<rect x="697" y="419" width="1" height="55" fill="#089981"/>
<rect x="696" y="437" width="3" height="15" fill="#089981"/>
<rect x="702" y="404" width="1" height="70" fill="#f23645"/>
<rect x="701" y="434" width="3" height="40" fill="#f23645"/>
<rect x="707" y="462" width="1" height="42" fill="#f23645"/>
<rect x="706" y="472" width="3" height="26" fill="#f23645"/>
<rect x="711" y="495" width="1" height="28" fill="#f23645"/>
<rect x="710" y="498" width="3" height="11" fill="#f23645"/>
<rect x="716" y="496" width="1" height="25" fill="#f23645"/>
<rect x="715" y="512" width="3" height="8" fill="#f23645"/>
<rect x="721" y="492" width="1" height="38" fill="#089981"/>
<rect x="720" y="503" width="3" height="18" fill="#089981"/>
<rect x="726" y="481" width="1" height="27" fill="#089981"/>
<rect x="725" y="485" width="3" height="19" fill="#089981"/>
<rect x="731" y="481" width="1" height="21" fill="#f23645"/>
<rect x="730" y="485" width="3" height="17" fill="#f23645"/>
<rect x="736" y="499" width="1" height="23" fill="#f23645"/>
<rect x="735" y="501" width="3" height="21" fill="#f23645"/>
<rect x="741" y="512" width="1" height="16" fill="#f23645"/>
<rect x="740" y="520" width="3" height="8" fill="#f23645"/>
<rect x="746" y="520" width="1" height="29" fill="#f23645"/>
<rect x="745" y="527" width="3" height="22" fill="#f23645"/>
<rect x="751" y="542" width="1" height="13" fill="#f23645"/>
<rect x="750" y="549" width="3" height="6" fill="#f23645"/>
<rect x="755" y="548" width="1" height="19" fill="#f23645"/>
<rect x="754" y="553" width="3" height="14" fill="#f23645"/>
<rect x="760" y="556" width="1" height="15" fill="#f23645"/>
<rect x="759" y="565" width="3" height="3" fill="#f23645"/>
<rect x="765" y="560" width="1" height="22" fill="#f23645"/>
<rect x="764" y="566" width="3" height="16" fill="#f23645"/>
<rect x="770" y="567" width="1" height="17" fill="#089981"/>
<rect x="769" y="572" width="3" height="10" fill="#089981"/>
<rect x="775" y="553" width="1" height="19" fill="#089981"/>
<rect x="774" y="563" width="3" height="9" fill="#089981"/>
<rect x="780" y="557" width="1" height="24" fill="#f23645"/>
<rect x="779" y="563" width="3" height="17" fill="#f23645"/>
<rect x="785" y="564" width="1" height="17" fill="#089981"/>
<rect x="784" y="573" width="3" height="7" fill="#089981"/>
<rect x="790" y="544" width="1" height="30" fill="#089981"/>
<rect x="789" y="551" width="3" height="23" fill="#089981"/>
<rect x="795" y="546" width="1" height="27" fill="#f23645"/>
<rect x="794" y="551" width="3" height="22" fill="#f23645"/>
<rect x="799" y="570" width="1" height="16" fill="#f23645"/>
<rect x="798" y="571" width="3" height="14" fill="#f23645"/>
<rect x="804" y="580" width="1" height="8" fill="#f23645"/>
<rect x="803" y="584" width="3" height="3" fill="#f23645"/>
<rect x="809" y="568" width="1" height="33" fill="#089981"/>
<rect x="808" y="574" width="3" height="13" fill="#089981"/>
<rect x="814" y="565" width="1" height="19" fill="#f23645"/>
<rect x="813" y="574" width="3" height="6" fill="#f23645"/>
<rect x="819" y="561" width="1" height="18" fill="#089981"/>
<rect x="818" y="566" width="3" height="13" fill="#089981"/>
<rect x="824" y="543" width="1" height="38" fill="#f23645"/>
<rect x="823" y="565" width="3" height="16" fill="#f23645"/>
<rect x="829" y="575" width="1" height="10" fill="#f23645"/>
<rect x="828" y="580" width="3" height="5" fill="#f23645"/>
<rect x="834" y="584" width="1" height="26" fill="#f23645"/>
<rect x="833" y="584" width="3" height="26" fill="#f23645"/>
<rect x="839" y="595" width="1" height="15" fill="#089981"/>
<rect x="838" y="608" width="3" height="1" fill="#089981"/>
<rect x="843" y="595" width="1" height="16" fill="#089981"/>
<rect x="842" y="601" width="3" height="8" fill="#089981"/>
<rect x="848" y="588" width="1" height="24" fill="#f23645"/>
<rect x="847" y="601" width="3" height="11" fill="#f23645"/>
<rect x="853" y="573" width="1" height="39" fill="#089981"/>
<rect x="852" y="587" width="3" height="25" fill="#089981"/>
<rect x="858" y="584" width="1" height="14" fill="#f23645"/>
<rect x="857" y="586" width="3" height="12" fill="#f23645"/>
<rect x="863" y="595" width="1" height="12" fill="#f23645"/>
<rect x="862" y="598" width="3" height="6" fill="#f23645"/>
<rect x="868" y="595" width="1" height="10" fill="#f23645"/>
<rect x="867" y="603" width="3" height="2" fill="#f23645"/>
<rect x="873" y="601" width="1" height="12" fill="#f23645"/>
<rect x="872" y="604" width="3" height="9" fill="#f23645"/>
<rect x="878" y="605" width="1" height="8" fill="#089981"/>
<rect x="877" y="607" width="3" height="6" fill="#089981"/>
<rect x="883" y="605" width="1" height="7" fill="#f23645"/>
<rect x="882" y="607" width="3" height="5" fill="#f23645"/>
<rect x="887" y="604" width="1" height="17" fill="#f23645"/>
<rect x="886" y="611" width="3" height="9" fill="#f23645"/>
<rect x="892" y="601" width="1" height="22" fill="#089981"/>
<rect x="891" y="607" width="3" height="14" fill="#089981"/>
<rect x="897" y="605" width="1" height="19" fill="#f23645"/>
<rect x="896" y="607" width="3" height="17" fill="#f23645"/>
<rect x="902" y="620" width="1" height="13" fill="#f23645"/>
<rect x="901" y="623" width="3" height="10" fill="#f23645"/>
<rect x="907" y="629" width="1" height="8" fill="#f23645"/>
<rect x="906" y="632" width="3" height="4" fill="#f23645"/>
<rect x="912" y="632" width="1" height="16" fill="#f23645"/>
<rect x="911" y="635" width="3" height="11" fill="#f23645"/>
<rect x="917" y="638" width="1" height="7" fill="#089981"/>
<rect x="916" y="641" width="3" height="4" fill="#089981"/>
<rect x="922" y="625" width="1" height="18" fill="#f23645"/>
<rect x="921" y="641" width="3" height="2" fill="#f23645"/>
<rect x="927" y="641" width="1" height="12" fill="#f23645"/>
<rect x="926" y="642" width="3" height="10" fill="#f23645"/>
<rect x="931" y="614" width="1" height="42" fill="#089981"/>
<rect x="930" y="636" width="3" height="16" fill="#089981"/>
<rect x="936" y="629" width="1" height="11" fill="#089981"/>
<rect x="935" y="635" width="3" height="3" fill="#089981"/>
<rect x="941" y="621" width="1" height="15" fill="#089981"/>
<rect x="940" y="625" width="3" height="11" fill="#089981"/>
<rect x="946" y="622" width="1" height="21" fill="#f23645"/>
<rect x="945" y="624" width="3" height="17" fill="#f23645"/>
<rect x="951" y="623" width="1" height="25" fill="#089981"/>
<rect x="950" y="625" width="3" height="16" fill="#089981"/>
<rect x="956" y="618" width="1" height="17" fill="#f23645"/>
<rect x="955" y="625" width="3" height="5" fill="#f23645"/>
<rect x="961" y="623" width="1" height="17" fill="#f23645"/>
<rect x="960" y="629" width="3" height="9" fill="#f23645"/>
<rect x="966" y="633" width="1" height="18" fill="#f23645"/>
<rect x="965" y="637" width="3" height="14" fill="#f23645"/>
<rect x="971" y="643" width="1" height="8" fill="#089981"/>
<rect x="970" y="646" width="3" height="5" fill="#089981"/>
<rect x="975" y="641" width="1" height="7" fill="#089981"/>
<rect x="974" y="645" width="3" height="2" fill="#089981"/>
<rect x="980" y="641" width="1" height="10" fill="#f23645"/>
<rect x="979" y="645" width="3" height="6" fill="#f23645"/>
<rect x="985" y="645" width="1" height="7" fill="#f23645"/>
<rect x="984" y="650" width="3" height="1" fill="#f23645"/>
<rect x="990" y="648" width="1" height="4" fill="#089981"/>
<rect x="989" y="650" width="3" height="1" fill="#089981"/>
<rect x="995" y="649" width="1" height="4" fill="#f23645"/>
<rect x="994" y="651" width="3" height="1" fill="#f23645"/>
<rect x="1000" y="645" width="1" height="9" fill="#089981"/>
<rect x="999" y="649" width="3" height="3" fill="#089981"/>
<rect x="1005" y="641" width="1" height="12" fill="#f23645"/>
<rect x="1004" y="648" width="3" height="5" fill="#f23645"/>
<rect x="1010" y="650" width="1" height="9" fill="#f23645"/>
<rect x="1009" y="652" width="3" height="7" fill="#f23645"/>
<rect x="1015" y="654" width="1" height="14" fill="#f23645"/>
<rect x="1014" y="657" width="3" height="5" fill="#f23645"/>
<rect x="1020" y="643" width="1" height="19" fill="#089981"/>
<rect x="1019" y="648" width="3" height="14" fill="#089981"/>
<rect x="1024" y="631" width="1" height="19" fill="#089981"/>
<rect x="1023" y="636" width="3" height="13" fill="#089981"/>
<rect x="1029" y="635" width="1" height="53" fill="#f23645"/>
<rect x="1028" y="637" width="3" height="51" fill="#f23645"/>
<rect x="1034" y="667" width="1" height="20" fill="#089981"/>
<rect x="1033" y="672" width="3" height="15" fill="#089981"/>
<rect x="1039" y="651" width="1" height="22" fill="#089981"/>
<rect x="1038" y="663" width="3" height="10" fill="#089981"/>
<rect x="1044" y="639" width="1" height="25" fill="#089981"/>
<rect x="1043" y="642" width="3" height="22" fill="#089981"/>
<rect x="1049" y="639" width="1" height="18" fill="#f23645"/>
<rect x="1048" y="642" width="3" height="15" fill="#f23645"/>
<rect x="1054" y="652" width="1" height="14" fill="#f23645"/>
<rect x="1053" y="656" width="3" height="6" fill="#f23645"/>
<rect x="1059" y="660" width="1" height="14" fill="#f23645"/>
<rect x="1058" y="661" width="3" height="13" fill="#f23645"/>
<rect x="1064" y="668" width="1" height="12" fill="#f23645"/>
<rect x="1063" y="674" width="3" height="6" fill="#f23645"/>
<rect x="1068" y="677" width="1" height="8" fill="#f23645"/>
<rect x="1067" y="679" width="3" height="6" fill="#f23645"/>
<rect x="1073" y="678" width="1" height="11" fill="#f23645"/>
<rect x="1072" y="684" width="3" height="4" fill="#f23645"/>
<rect x="1078" y="657" width="1" height="31" fill="#089981"/>
<rect x="1077" y="661" width="3" height="27" fill="#089981"/>
<rect x="1083" y="656" width="1" height="26" fill="#f23645"/>
<rect x="1082" y="661" width="3" height="21" fill="#f23645"/>
<rect x="1088" y="659" width="1" height="22" fill="#089981"/>
<rect x="1087" y="668" width="3" height="13" fill="#089981"/>
<rect x="1093" y="638" width="1" height="32" fill="#089981"/>
<rect x="1092" y="649" width="3" height="21" fill="#089981"/>
<rect x="1098" y="617" width="1" height="36" fill="#089981"/>
<rect x="1097" y="623" width="3" height="25" fill="#089981"/>
<rect x="1103" y="598" width="1" height="28" fill="#f23645"/>
<rect x="1102" y="622" width="3" height="1" fill="#f23645"/>
<rect x="1108" y="615" width="1" height="33" fill="#f23645"/>
<rect x="1107" y="622" width="3" height="24" fill="#f23645"/>
<rect x="1112" y="632" width="1" height="15" fill="#f23645"/>
<rect x="1111" y="645" width="3" height="1" fill="#f23645"/>
<rect x="1117" y="638" width="1" height="9" fill="#089981"/>
<rect x="1116" y="643" width="3" height="1" fill="#089981"/>
<rect x="1122" y="625" width="1" height="22" fill="#089981"/>
<rect x="1121" y="629" width="3" height="14" fill="#089981"/>
<rect x="1127" y="601" width="1" height="29" fill="#089981"/>
<rect x="1126" y="604" width="3" height="26" fill="#089981"/>
<rect x="1132" y="588" width="1" height="23" fill="#089981"/>
<rect x="1131" y="600" width="3" height="6" fill="#089981"/>
<rect x="1137" y="591" width="1" height="32" fill="#f23645"/>
<rect x="1136" y="600" width="3" height="20" fill="#f23645"/>
<rect x="1142" y="588" width="1" height="32" fill="#089981"/>
<rect x="1141" y="591" width="3" height="29" fill="#089981"/>
<rect x="1147" y="579" width="1" height="24" fill="#f23645"/>
<rect x="1146" y="591" width="3" height="9" fill="#f23645"/>
<rect x="1152" y="586" width="1" height="16" fill="#089981"/>
<rect x="1151" y="598" width="3" height="1" fill="#089981"/>
<rect x="1156" y="593" width="1" height="11" fill="#f23645"/>
<rect x="1155" y="598" width="3" height="4" fill="#f23645"/>
<rect x="1161" y="487" width="1" height="114" fill="#089981"/>
<rect x="1160" y="537" width="3" height="64" fill="#089981"/>
<rect x="1166" y="502" width="1" height="54" fill="#f23645"/>
<rect x="1165" y="537" width="3" height="17" fill="#f23645"/>
<rect x="1171" y="550" width="1" height="35" fill="#f23645"/>
<rect x="1170" y="554" width="3" height="25" fill="#f23645"/>
<rect x="1176" y="550" width="1" height="28" fill="#089981"/>
<rect x="1175" y="564" width="3" height="14" fill="#089981"/>
<rect x="1181" y="504" width="1" height="69" fill="#089981"/>
<rect x="1180" y="510" width="3" height="55" fill="#089981"/>
<rect x="1186" y="470" width="1" height="40" fill="#089981"/>
<rect x="1185" y="488" width="3" height="22" fill="#089981"/>
<rect x="1191" y="479" width="1" height="21" fill="#f23645"/>
<rect x="1190" y="489" width="3" height="6" fill="#f23645"/>
<rect x="1196" y="492" width="1" height="22" fill="#f23645"/>
<rect x="1195" y="494" width="3" height="15" fill="#f23645"/>
<rect x="1200" y="496" width="1" height="56" fill="#f23645"/>
<rect x="1199" y="507" width="3" height="24" fill="#f23645"/>
<rect x="1205" y="518" width="1" height="16" fill="#089981"/>
<rect x="1204" y="524" width="3" height="6" fill="#089981"/>
<rect x="1210" y="492" width="1" height="33" fill="#089981"/>
<rect x="1209" y="493" width="3" height="32" fill="#089981"/>
<rect x="1215" y="487" width="1" height="17" fill="#f23645"/>
<rect x="1214" y="494" width="3" height="9" fill="#f23645"/>
<rect x="1220" y="492" width="1" height="9" fill="#089981"/>
<rect x="1219" y="499" width="3" height="1" fill="#089981"/>
<rect x="1225" y="493" width="1" height="10" fill="#089981"/>
<rect x="1224" y="499" width="3" height="4" fill="#089981"/>
<rect x="1230" y="481" width="1" height="26" fill="#089981"/>
<rect x="1229" y="487" width="3" height="13" fill="#089981"/>
<rect x="1235" y="452" width="1" height="36" fill="#089981"/>
<rect x="1234" y="479" width="3" height="9" fill="#089981"/>
<rect x="1240" y="464" width="1" height="23" fill="#089981"/>
<rect x="1239" y="471" width="3" height="8" fill="#089981"/>
<rect x="1244" y="465" width="1" height="9" fill="#089981"/>
<rect x="1243" y="467" width="3" height="4" fill="#089981"/>
<rect x="1249" y="465" width="1" height="29" fill="#f23645"/>
<rect x="1248" y="467" width="3" height="24" fill="#f23645"/>
<rect x="1254" y="487" width="1" height="39" fill="#f23645"/>
<rect x="1253" y="489" width="3" height="30" fill="#f23645"/>
<rect x="1259" y="509" width="1" height="41" fill="#f23645"/>
<rect x="1258" y="519" width="3" height="29" fill="#f23645"/>
<rect x="1264" y="530" width="1" height="43" fill="#089981"/>
<rect x="1263" y="546" width="3" height="1" fill="#089981"/>
<rect x="1269" y="526" width="1" height="24" fill="#089981"/>
<rect x="1268" y="538" width="3" height="10" fill="#089981"/>
<rect x="1274" y="521" width="1" height="24" fill="#f23645"/>
<rect x="1273" y="537" width="3" height="7" fill="#f23645"/>
<rect x="1279" y="540" width="1" height="12" fill="#f23645"/>
<rect x="1278" y="543" width="3" height="8" fill="#f23645"/>
</g>
<g shape-rendering="crispEdges" fill="#f23645">
<path d="M0 550h1v1h-1zM3 550h1v1h-1zM6 550h1v1h-1zM9 550h1v1h-1zM12 550h1v1h-1zM15 550h1v1h-1zM18 550h1v1h-1zM21 550h1v1h-1zM24 550h1v1h-1zM27 550h1v1h-1zM30 550h1v1h-1zM33 550h1v1h-1zM36 550h1v1h-1zM39 550h1v1h-1zM42 550h1v1h-1zM45 550h1v1h-1zM48 550h1v1h-1zM51 550h1v1h-1zM54 550h1v1h-1zM57 550h1v1h-1zM60 550h1v1h-1zM63 550h1v1h-1zM66 550h1v1h-1zM69 550h1v1h-1zM72 550h1v1h-1zM75 550h1v1h-1zM78 550h1v1h-1zM81 550h1v1h-1zM84 550h1v1h-1zM87 550h1v1h-1zM90 550h1v1h-1zM93 550h1v1h-1zM96 550h1v1h-1zM99 550h1v1h-1zM102 550h1v1h-1zM105 550h1v1h-1zM108 550h1v1h-1zM111 550h1v1h-1zM114 550h1v1h-1zM117 550h1v1h-1zM120 550h1v1h-1zM123 550h1v1h-1zM126 550h1v1h-1zM129 550h1v1h-1zM132 550h1v1h-1zM135 550h1v1h-1zM138 550h1v1h-1zM141 550h1v1h-1zM144 550h1v1h-1zM147 550h1v1h-1zM150 550h1v1h-1zM153 550h1v1h-1zM156 550h1v1h-1zM159 550h1v1h-1zM162 550h1v1h-1zM165 550h1v1h-1zM168 550h1v1h-1zM171 550h1v1h-1zM174 550h1v1h-1zM177 550h1v1h-1zM180 550h1v1h-1zM183 550h1v1h-1zM186 550h1v1h-1zM189 550h1v1h-1zM192 550h1v1h-1zM195 550h1v1h-1zM198 550h1v1h-1zM201 550h1v1h-1zM204 550h1v1h-1zM207 550h1v1h-1zM210 550h1v1h-1zM213 550h1v1h-1zM216 550h1v1h-1zM219 550h1v1h-1zM222 550h1v1h-1zM225 550h1v1h-1zM228 550h1v1h-1zM231 550h1v1h-1zM234 550h1v1h-1zM237 550h1v1h-1zM240 550h1v1h-1zM243 550h1v1h-1zM246 550h1v1h-1zM249 550h1v1h-1zM252 550h1v1h-1zM255 550h1v1h-1zM258 550h1v1h-1zM261 550h1v1h-1zM264 550h1v1h-1zM267 550h1v1h-1zM270 550h1v1h-1zM273 550h1v1h-1zM276 550h1v1h-1zM279 550h1v1h-1zM282 550h1v1h-1zM285 550h1v1h-1zM288 550h1v1h-1zM291 550h1v1h-1zM294 550h1v1h-1zM297 550h1v1h-1zM300 550h1v1h-1zM303 550h1v1h-1zM306 550h1v1h-1zM309 550h1v1h-1zM312 550h1v1h-1zM315 550h1v1h-1zM318 550h1v1h-1zM321 550h1v1h-1zM324 550h1v1h-1zM327 550h1v1h-1zM330 550h1v1h-1zM333 550h1v1h-1zM336 550h1v1h-1zM339 550h1v1h-1zM342 550h1v1h-1zM345 550h1v1h-1zM348 550h1v1h-1zM351 550h1v1h-1zM354 550h1v1h-1zM357 550h1v1h-1zM360 550h1v1h-1zM363 550h1v1h-1zM366 550h1v1h-1zM369 550h1v1h-1zM372 550h1v1h-1zM375 550h1v1h-1zM378 550h1v1h-1zM381 550h1v1h-1zM384 550h1v1h-1zM387 550h1v1h-1zM390 550h1v1h-1zM393 550h1v1h-1zM396 550h1v1h-1zM399 550h1v1h-1zM402 550h1v1h-1zM405 550h1v1h-1zM408 550h1v1h-1zM411 550h1v1h-1zM414 550h1v1h-1zM417 550h1v1h-1zM420 550h1v1h-1zM423 550h1v1h-1zM426 550h1v1h-1zM429 550h1v1h-1zM432 550h1v1h-1zM435 550h1v1h-1zM438 550h1v1h-1zM441 550h1v1h-1zM444 550h1v1h-1zM447 550h1v1h-1zM450 550h1v1h-1zM453 550h1v1h-1zM456 550h1v1h-1zM459 550h1v1h-1zM462 550h1v1h-1zM465 550h1v1h-1zM468 550h1v1h-1zM471 550h1v1h-1zM474 550h1v1h-1zM477 550h1v1h-1zM480 550h1v1h-1zM483 550h1v1h-1zM486 550h1v1h-1zM489 550h1v1h-1zM492 550h1v1h-1zM495 550h1v1h-1zM498 550h1v1h-1zM501 550h1v1h-1zM504 550h1v1h-1zM507 550h1v1h-1zM510 550h1v1h-1zM513 550h1v1h-1zM516 550h1v1h-1zM519 550h1v1h-1zM522 550h1v1h-1zM525 550h1v1h-1zM528 550h1v1h-1zM531 550h1v1h-1zM534 550h1v1h-1zM537 550h1v1h-1zM540 550h1v1h-1zM543 550h1v1h-1zM546 550h1v1h-1zM549 550h1v1h-1zM552 550h1v1h-1zM555 550h1v1h-1zM558 550h1v1h-1zM561 550h1v1h-1zM564 550h1v1h-1zM567 550h1v1h-1zM570 550h1v1h-1zM573 550h1v1h-1zM576 550h1v1h-1zM579 550h1v1h-1zM582 550h1v1h-1zM585 550h1v1h-1zM588 550h1v1h-1zM591 550h1v1h-1zM594 550h1v1h-1zM597 550h1v1h-1zM600 550h1v1h-1zM603 550h1v1h-1zM606 550h1v1h-1zM609 550h1v1h-1zM612 550h1v1h-1zM615 550h1v1h-1zM618 550h1v1h-1zM621 550h1v1h-1zM624 550h1v1h-1zM627 550h1v1h-1zM630 550h1v1h-1zM633 550h1v1h-1zM636 550h1v1h-1zM639 550h1v1h-1zM642 550h1v1h-1zM645 550h1v1h-1zM648 550h1v1h-1zM651 550h1v1h-1zM654 550h1v1h-1zM657 550h1v1h-1zM660 550h1v1h-1zM663 550h1v1h-1zM666 550h1v1h-1zM669 550h1v1h-1zM672 550h1v1h-1zM675 550h1v1h-1zM678 550h1v1h-1zM681 550h1v1h-1zM684 550h1v1h-1zM687 550h1v1h-1zM690 550h1v1h-1zM693 550h1v1h-1zM696 550h1v1h-1zM699 550h1v1h-1zM702 550h1v1h-1zM705 550h1v1h-1zM708 550h1v1h-1zM711 550h1v1h-1zM714 550h1v1h-1zM717 550h1v1h-1zM720 550h1v1h-1zM723 550h1v1h-1zM726 550h1v1h-1zM729 550h1v1h-1zM732 550h1v1h-1zM735 550h1v1h-1zM738 550h1v1h-1zM741 550h1v1h-1zM744 550h1v1h-1zM747 550h1v1h-1zM750 550h1v1h-1zM753 550h1v1h-1zM756 550h1v1h-1zM759 550h1v1h-1zM762 550h1v1h-1zM765 550h1v1h-1zM768 550h1v1h-1zM771 550h1v1h-1zM774 550h1v1h-1zM777 550h1v1h-1zM780 550h1v1h-1zM783 550h1v1h-1zM786 550h1v1h-1zM789 550h1v1h-1zM792 550h1v1h-1zM795 550h1v1h-1zM798 550h1v1h-1zM801 550h1v1h-1zM804 550h1v1h-1zM807 550h1v1h-1zM810 550h1v1h-1zM813 550h1v1h-1zM816 550h1v1h-1zM819 550h1v1h-1zM822 550h1v1h-1zM825 550h1v1h-1zM828 550h1v1h-1zM831 550h1v1h-1zM834 550h1v1h-1zM837 550h1v1h-1zM840 550h1v1h-1zM843 550h1v1h-1zM846 550h1v1h-1zM849 550h1v1h-1zM852 550h1v1h-1zM855 550h1v1h-1zM858 550h1v1h-1zM861 550h1v1h-1zM864 550h1v1h-1zM867 550h1v1h-1zM870 550h1v1h-1zM873 550h1v1h-1zM876 550h1v1h-1zM879 550h1v1h-1zM882 550h1v1h-1zM885 550h1v1h-1zM888 550h1v1h-1zM891 550h1v1h-1zM894 550h1v1h-1zM897 550h1v1h-1zM900 550h1v1h-1zM903 550h1v1h-1zM906 550h1v1h-1zM909 550h1v1h-1zM912 550h1v1h-1zM915 550h1v1h-1zM918 550h1v1h-1zM921 550h1v1h-1zM924 550h1v1h-1zM927 550h1v1h-1zM930 550h1v1h-1zM933 550h1v1h-1zM936 550h1v1h-1zM939 550h1v1h-1zM942 550h1v1h-1zM945 550h1v1h-1zM948 550h1v1h-1zM951 550h1v1h-1zM954 550h1v1h-1zM957 550h1v1h-1zM960 550h1v1h-1zM963 550h1v1h-1zM966 550h1v1h-1zM969 550h1v1h-1zM972 550h1v1h-1zM975 550h1v1h-1zM978 550h1v1h-1zM981 550h1v1h-1zM984 550h1v1h-1zM987 550h1v1h-1zM990 550h1v1h-1zM993 550h1v1h-1zM996 550h1v1h-1zM999 550h1v1h-1zM1002 550h1v1h-1zM1005 550h1v1h-1zM1008 550h1v1h-1zM1011 550h1v1h-1zM1014 550h1v1h-1zM1017 550h1v1h-1zM1020 550h1v1h-1zM1023 550h1v1h-1zM1026 550h1v1h-1zM1029 550h1v1h-1zM1032 550h1v1h-1zM1035 550h1v1h-1zM1038 550h1v1h-1zM1041 550h1v1h-1zM1044 550h1v1h-1zM1047 550h1v1h-1zM1050 550h1v1h-1zM1053 550h1v1h-1zM1056 550h1v1h-1zM1059 550h1v1h-1zM1062 550h1v1h-1zM1065 550h1v1h-1zM1068 550h1v1h-1zM1071 550h1v1h-1zM1074 550h1v1h-1zM1077 550h1v1h-1zM1080 550h1v1h-1zM1083 550h1v1h-1zM1086 550h1v1h-1zM1089 550h1v1h-1zM1092 550h1v1h-1zM1095 550h1v1h-1zM1098 550h1v1h-1zM1101 550h1v1h-1zM1104 550h1v1h-1zM1107 550h1v1h-1zM1110 550h1v1h-1zM1113 550h1v1h-1zM1116 550h1v1h-1zM1119 550h1v1h-1zM1122 550h1v1h-1zM1125 550h1v1h-1zM1128 550h1v1h-1zM1131 550h1v1h-1zM1134 550h1v1h-1zM1137 550h1v1h-1zM1140 550h1v1h-1zM1143 550h1v1h-1zM1146 550h1v1h-1zM1149 550h1v1h-1zM1152 550h1v1h-1zM1155 550h1v1h-1zM1158 550h1v1h-1zM1161 550h1v1h-1zM1164 550h1v1h-1zM1167 550h1v1h-1zM1170 550h1v1h-1zM1173 550h1v1h-1zM1176 550h1v1h-1zM1179 550h1v1h-1zM1182 550h1v1h-1zM1185 550h1v1h-1zM1188 550h1v1h-1zM1191 550h1v1h-1zM1194 550h1v1h-1zM1197 550h1v1h-1zM1200 550h1v1h-1zM1203 550h1v1h-1zM1206 550h1v1h-1zM1209 550h1v1h-1zM1212 550h1v1h-1zM1215 550h1v1h-1zM1218 550h1v1h-1zM1221 550h1v1h-1zM1224 550h1v1h-1zM1227 550h1v1h-1zM1230 550h1v1h-1zM1233 550h1v1h-1zM1236 550h1v1h-1zM1239 550h1v1h-1zM1242 550h1v1h-1zM1245 550h1v1h-1zM1248 550h1v1h-1zM1251 550h1v1h-1zM1254 550h1v1h-1zM1257 550h1v1h-1zM1260 550h1v1h-1zM1263 550h1v1h-1zM1266 550h1v1h-1zM1269 550h1v1h-1zM1272 550h1v1h-1zM1275 550h1v1h-1zM1278 550h1v1h-1zM1281 550h1v1h-1zM1284 550h1v1h-1zM1287 550h1v1h-1zM1290 550h1v1h-1zM1293 550h1v1h-1zM1296 550h1v1h-1zM1299 550h1v1h-1zM1302 550h1v1h-1zM1305 550h1v1h-1zM1308 550h1v1h-1zM1311 550h1v1h-1zM1314 550h1v1h-1zM1317 550h1v1h-1zM1320 550h1v1h-1zM1323 550h1v1h-1zM1326 550h1v1h-1zM1329 550h1v1h-1z"/>
</g>
<line x1="1284" y1="195" x2="1284" y2="390" stroke="#db0024" stroke-width="8" stroke-linecap="round"/>
<polygon points="1284,415 1270,383 1284,389 1298,383" fill="#db0024"/>
<rect x="0" y="723" width="1409" height="1" fill="#e0e3eb" shape-rendering="crispEdges"/>
<path d="M1330 540h76a2 2 0 0 1 2 2v35a2 2 0 0 1-2 2h-76z" fill="#f23645"/>
<text x="1339.5" y="35.95" font-size="15.5" fill="#131722" textLength="61.5" lengthAdjust="spacingAndGlyphs">0.008100</text>
<text x="1339.5" y="78.95" font-size="15.5" fill="#131722" textLength="61.5" lengthAdjust="spacingAndGlyphs">0.008000</text>
<text x="1339.5" y="122.95" font-size="15.5" fill="#131722" textLength="61.5" lengthAdjust="spacingAndGlyphs">0.007900</text>
<text x="1339.5" y="165.95" font-size="15.5" fill="#131722" textLength="61.5" lengthAdjust="spacingAndGlyphs">0.007800</text>
<text x="1339.5" y="209.95" font-size="15.5" fill="#131722" textLength="61.5" lengthAdjust="spacingAndGlyphs">0.007700</text>
<text x="1339.5" y="252.95" font-size="15.5" fill="#131722" textLength="61.5" lengthAdjust="spacingAndGlyphs">0.007600</text>
<text x="1339.5" y="296.95" font-size="15.5" fill="#131722" textLength="61.5" lengthAdjust="spacingAndGlyphs">0.007500</text>
<text x="1339.5" y="339.95" font-size="15.5" fill="#131722" textLength="61.5" lengthAdjust="spacingAndGlyphs">0.007400</text>
<text x="1339.5" y="383.95" font-size="15.5" fill="#131722" textLength="61.5" lengthAdjust="spacingAndGlyphs">0.007300</text>
<text x="1339.5" y="426.95" font-size="15.5" fill="#131722" textLength="61.5" lengthAdjust="spacingAndGlyphs">0.007200</text>
<text x="1339.5" y="470.95" font-size="15.5" fill="#131722" textLength="61.5" lengthAdjust="spacingAndGlyphs">0.007100</text>
<text x="1339.5" y="513.95" font-size="15.5" fill="#131722" textLength="61.5" lengthAdjust="spacingAndGlyphs">0.007000</text>
<text x="1339.5" y="600.95" font-size="15.5" fill="#131722" textLength="61.5" lengthAdjust="spacingAndGlyphs">0.006800</text>
<text x="1339.5" y="643.95" font-size="15.5" fill="#131722" textLength="61.5" lengthAdjust="spacingAndGlyphs">0.006700</text>
<text x="1339.5" y="687.95" font-size="15.5" fill="#131722" textLength="61.5" lengthAdjust="spacingAndGlyphs">0.006600</text>
<text x="1339.5" y="555.4" font-size="15.3" fill="#fff" textLength="60.8" lengthAdjust="spacingAndGlyphs" stroke="#fff" stroke-width="0.75">0.006905</text>
<text x="1341" y="573.8" font-size="15.3" fill="#fff" textLength="57.3" lengthAdjust="spacingAndGlyphs" stroke="#fff" stroke-width="0.75" opacity="0.85">18:15:15</text>
<text x="38.400000000000006" y="27.7" font-size="19.0" fill="#131722" textLength="82.3" lengthAdjust="spacingAndGlyphs" stroke="#131722" stroke-width="0.3">Japanese</text>
<text x="126.9" y="27.7" font-size="19.0" fill="#131722" textLength="30.9" lengthAdjust="spacingAndGlyphs" stroke="#131722" stroke-width="0.3">Yen</text>
<text x="181.1" y="27.7" font-size="19.0" fill="#131722" textLength="35.1" lengthAdjust="spacingAndGlyphs" stroke="#131722" stroke-width="0.3">U.S.</text>
<text x="224.7" y="27.7" font-size="19.0" fill="#131722" textLength="52.2" lengthAdjust="spacingAndGlyphs" stroke="#131722" stroke-width="0.3">Dollar</text>
<text x="292.9" y="27.7" font-size="19.0" fill="#131722" textLength="21.7" lengthAdjust="spacingAndGlyphs" stroke="#131722" stroke-width="0.3">1D</text>
<text x="330.5" y="27.7" font-size="19.0" fill="#131722" textLength="27.3" lengthAdjust="spacingAndGlyphs" stroke="#131722" stroke-width="0.3">ICE</text>
<path d="M166.4 28.6l4.9-15.2" stroke="#131722" stroke-width="1.7" fill="none"/>
<rect x="282.7" y="20.3" width="3.2" height="3.2" rx="1" fill="#131722"/><rect x="320.4" y="20.3" width="3.2" height="3.2" rx="1" fill="#131722"/>
<text x="452.2" y="25.8" font-size="15.6" fill="#131722" text-anchor="middle">O</text>
<text x="459.29999999999995" y="25.8" font-size="15.6" fill="#f23645" textLength="64.3" lengthAdjust="spacingAndGlyphs">0.006921</text>
<text x="537.35" y="25.8" font-size="15.6" fill="#131722" text-anchor="middle">H</text>
<text x="544.0" y="25.8" font-size="15.6" fill="#f23645" textLength="65.5" lengthAdjust="spacingAndGlyphs">0.006928</text>
<text x="621.85" y="25.8" font-size="15.6" fill="#131722" text-anchor="middle">L</text>
<text x="626.6999999999999" y="25.8" font-size="15.6" fill="#f23645" textLength="64.3" lengthAdjust="spacingAndGlyphs">0.006901</text>
<text x="704.15" y="25.8" font-size="15.6" fill="#131722" text-anchor="middle">C</text>
<text x="710.4" y="25.8" font-size="15.6" fill="#f23645" textLength="66.2" lengthAdjust="spacingAndGlyphs">0.006905</text>
<text x="784.1999999999999" y="25.8" font-size="15.6" fill="#f23645" textLength="73.2" lengthAdjust="spacingAndGlyphs">−0.000015</text>
<text x="863.9" y="25.8" font-size="15.6" fill="#f23645" textLength="60.7" lengthAdjust="spacingAndGlyphs">(−0.21%)</text>
<rect x="10.9" y="40.9" width="82.7" height="28.3" rx="4.5" fill="#fff" stroke="#f23645" stroke-width="1"/>
<rect x="133.4" y="40.9" width="82.8" height="28.3" rx="4.5" fill="#fff" stroke="#2962ff" stroke-width="1"/>
<text x="19.2" y="60.9" font-size="16.2" fill="#f23645" textLength="56.6" lengthAdjust="spacingAndGlyphs">0.00690</text>
<text x="75.6" y="59.1" font-size="14.6" fill="#f23645" textLength="8.0" lengthAdjust="spacingAndGlyphs">5</text>
<text x="103.4" y="60.9" font-size="16.2" fill="#131722" textLength="19.6" lengthAdjust="spacingAndGlyphs">0.2</text>
<text x="142.6" y="60.9" font-size="16.2" fill="#2962ff" textLength="57.3" lengthAdjust="spacingAndGlyphs">0.00690</text>
<text x="199.9" y="59.1" font-size="14.6" fill="#2962ff" textLength="8.0" lengthAdjust="spacingAndGlyphs">7</text>
<text x="11.3" y="95.3" font-size="15" fill="#131722" textLength="20.4" lengthAdjust="spacingAndGlyphs">Vol</text>
<text x="43" y="95.3" font-size="15" fill="#f23645" textLength="8.3" lengthAdjust="spacingAndGlyphs">0</text>
<rect x="11.8" y="108.8" width="34.5" height="23.2" rx="4" fill="#fff" stroke="#e0e3eb" stroke-width="1"/>
<path d="M23 123.2l5.2-5.2 5.2 5.2" fill="none" stroke="#131722" stroke-width="1.6"/>
<path d="M388 9h14v22h-14a11 11 0 0 1 0-22z" fill="#089981" fill-opacity="0.13"/>
<path d="M402 9h14.3a11 11 0 0 1 0 22h-14.3z" fill="#e91e63" fill-opacity="0.155"/>
<circle cx="391" cy="19.9" r="5" fill="#089981"/>
<path d="M408 17.6q2.7-2.6 5.4-0.6t5.4-0.6M408 22.6q2.7-2.6 5.4-0.6t5.4-0.6" fill="none" stroke="#e91e63" stroke-width="1.9"/>
<defs><clipPath id="usc"><circle cx="26.0" cy="16.7" r="7.8"/></clipPath><clipPath id="usc2"><circle cx="1283.6" cy="706.8" r="10"/></clipPath></defs>
<g clip-path="url(#usc)"><rect x="18" y="8" width="17" height="17" fill="#fff"/>
<rect x="18" y="8.9" width="17" height="3.1" fill="#ef5350"/>
<rect x="18" y="15" width="17" height="3.1" fill="#ef5350"/>
<rect x="18" y="21" width="17" height="3.1" fill="#ef5350"/>
<rect x="18" y="8" width="10" height="10.05" fill="#1e88e5"/>
<rect x="23.5" y="11.2" width="1" height="1" fill="#fff" fill-opacity="0.8"/>
<rect x="26" y="11.2" width="1" height="1" fill="#fff" fill-opacity="0.8"/>
<rect x="23.5" y="14.2" width="1" height="1" fill="#fff" fill-opacity="0.8"/>
<rect x="26" y="14.2" width="1" height="1" fill="#fff" fill-opacity="0.8"/>
</g>
<circle cx="19" cy="23.95" r="8.7" fill="#fff"/>
<circle cx="19" cy="23.95" r="7.2" fill="#eef2fa" stroke="#e4e8f2" stroke-width="0.6"/>
<circle cx="19" cy="23.95" r="3.4" fill="#f7525f"/>
<circle cx="1279.6" cy="706.4" r="12.4" fill="#fff" stroke="#9c27b0" stroke-width="2"/>
<circle cx="1288.6" cy="706.4" r="12.4" fill="#fff" stroke="#f23645" stroke-width="2"/>
<rect x="1297" y="704.5" width="1.5" height="4" fill="#ef5350"/>
<circle cx="1284.1" cy="706.4" r="12.4" fill="#fff" stroke="#f23645" stroke-width="2"/>
<g clip-path="url(#usc2)"><rect x="1273" y="696" width="22" height="22" fill="#fff"/>
<rect x="1273" y="696.8" width="22" height="4" fill="#ef5350"/>
<rect x="1273" y="704.8" width="22" height="4" fill="#ef5350"/>
<rect x="1273" y="712.8" width="22" height="4" fill="#ef5350"/>
<rect x="1273" y="696" width="12.6" height="12.8" fill="#1e88e5"/>
<rect x="1276.5" y="699" width="1.2" height="1.2" fill="#fff" fill-opacity="0.85"/>
<rect x="1279.8" y="699" width="1.2" height="1.2" fill="#fff" fill-opacity="0.85"/>
<rect x="1283" y="699" width="1.2" height="1.2" fill="#fff" fill-opacity="0.85"/>
<rect x="1276.5" y="702.3" width="1.2" height="1.2" fill="#fff" fill-opacity="0.85"/>
<rect x="1279.8" y="702.3" width="1.2" height="1.2" fill="#fff" fill-opacity="0.85"/>
<rect x="1283" y="702.3" width="1.2" height="1.2" fill="#fff" fill-opacity="0.85"/>
<rect x="1276.5" y="705.6" width="1.2" height="1.2" fill="#fff" fill-opacity="0.85"/>
<rect x="1279.8" y="705.6" width="1.2" height="1.2" fill="#fff" fill-opacity="0.85"/>
<rect x="1283" y="705.6" width="1.2" height="1.2" fill="#fff" fill-opacity="0.85"/>
</g>
<path d="M15 687h15v18h-7.5v-10.3h-7.5z" fill="#131722"/><circle cx="36.4" cy="690.4" r="3.4" fill="#131722"/><path d="M43 687h9l-6.3 18h-8.7z" fill="#131722"/>
<text x="61.7" y="705" font-size="25" fill="#131722" textLength="150.1" lengthAdjust="spacingAndGlyphs" font-weight="bold">TradingView</text>
<text x="80.5" y="745.7" font-size="14.5" fill="#131722" text-anchor="middle">Feb</text>
<text x="183.4" y="745.7" font-size="14.5" fill="#131722" text-anchor="middle">2</text>
<text x="291.2" y="745.7" font-size="14.5" fill="#131722" text-anchor="middle">Apr</text>
<text x="393.6" y="745.7" font-size="14.5" fill="#131722" text-anchor="middle">2</text>
<text x="501.4" y="745.7" font-size="14.5" fill="#131722" text-anchor="middle">Jun</text>
<text x="609.3" y="745.7" font-size="14.5" fill="#131722" text-anchor="middle">Jul</text>
<text x="711.5" y="745.7" font-size="14.5" fill="#131722" text-anchor="middle">Aug</text>
<text x="823.9" y="745.7" font-size="14.5" fill="#131722" text-anchor="middle">Sep</text>
<text x="926.5" y="745.7" font-size="14.5" fill="#131722" text-anchor="middle">Oct</text>
<text x="1034.6" y="745.7" font-size="14.5" fill="#131722" text-anchor="middle">Nov</text>
<text x="1141.8" y="745.7" font-size="14.5" fill="#131722" text-anchor="middle">Dec</text>
<text x="1227.7" y="745.7" font-size="14.8" fill="#131722" textLength="34.3" lengthAdjust="spacingAndGlyphs" stroke="#131722" stroke-width="0.7">2024</text>
<path d="M1363.4 740.8l4.2-7.4h8.4l4.2 7.4-4.2 7.4h-8.4z" fill="none" stroke="#131722" stroke-width="1.25" stroke-linejoin="round"/><circle cx="1371.8" cy="740.8" r="2.6" fill="none" stroke="#131722" stroke-width="1.25"/>
<text x="18.3" y="787.7" font-size="17.5" fill="#131722" textLength="19.1" lengthAdjust="spacingAndGlyphs" stroke="#131722" stroke-width="0.3">1D</text>
<text x="53.4" y="787.7" font-size="17.5" fill="#131722" textLength="18.3" lengthAdjust="spacingAndGlyphs" stroke="#131722" stroke-width="0.3">5D</text>
<text x="88.4" y="787.7" font-size="17.5" fill="#131722" textLength="21.0" lengthAdjust="spacingAndGlyphs" stroke="#131722" stroke-width="0.3">1M</text>
<text x="125" y="787.7" font-size="17.5" fill="#131722" textLength="20.8" lengthAdjust="spacingAndGlyphs" stroke="#131722" stroke-width="0.3">3M</text>
<text x="161" y="787.7" font-size="17.5" fill="#131722" textLength="21.5" lengthAdjust="spacingAndGlyphs" stroke="#131722" stroke-width="0.3">6M</text>
<text x="197.5" y="787.7" font-size="17.5" fill="#131722" textLength="31.0" lengthAdjust="spacingAndGlyphs" stroke="#131722" stroke-width="0.3">YTD</text>
<text x="244.5" y="787.7" font-size="17.5" fill="#131722" textLength="17.3" lengthAdjust="spacingAndGlyphs" stroke="#131722" stroke-width="0.3">1Y</text>
<text x="277.9" y="787.7" font-size="17.5" fill="#131722" textLength="18.3" lengthAdjust="spacingAndGlyphs" stroke="#131722" stroke-width="0.3">5Y</text>
<text x="311.9" y="787.7" font-size="17.5" fill="#131722" textLength="20.0" lengthAdjust="spacingAndGlyphs" stroke="#131722" stroke-width="0.3">All</text>
<rect x="345" y="768" width="1" height="28" fill="#e0e3eb" shape-rendering="crispEdges"/>
<g fill="none" stroke="#131722" stroke-width="1.3"><path d="M364.2 779.8v-5.3a3 3 0 0 1 3-3h14.3a3 3 0 0 1 3 3v13a3 3 0 0 1-3 3h-7"/><path d="M364.2 777h20.3M370 768.9v4.7M378.8 768.9v4.7"/><path d="M362.2 787.1h9.4M367.3 783l4.3 4.1-4.3 4.2"/></g>
<text x="1270.1" y="787.6" font-size="17.5" fill="#131722" textLength="134.1" lengthAdjust="spacingAndGlyphs" stroke="#131722" stroke-width="0.3">11:44:45 (UTC+8)</text>
<path d="M0 0h3a3 3 0 0 0-3 3z" fill="#dfe2ec"/><path d="M0 804v-2.5a2.5 2.5 0 0 0 2.5 2.5z" fill="#e4e6ee"/>
</svg></body></html>
